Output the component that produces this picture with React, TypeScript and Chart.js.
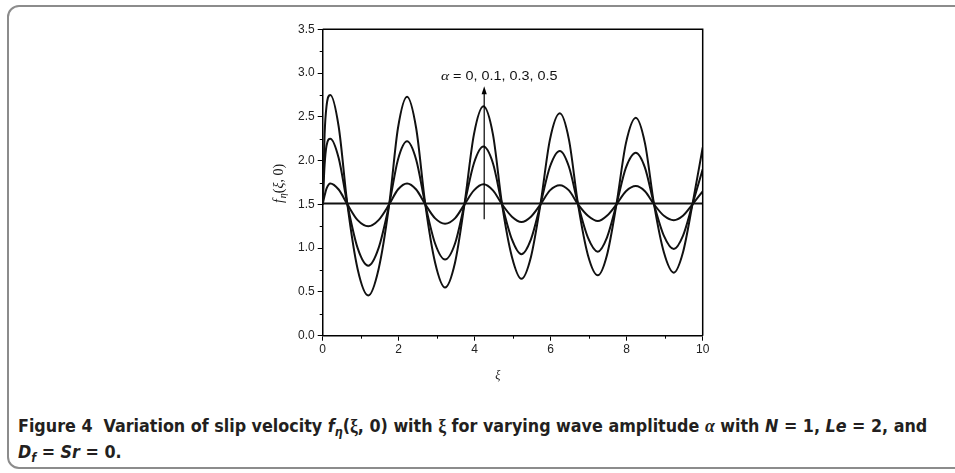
import React, { useEffect, useRef } from "react";
import { Chart, registerables } from "chart.js";
Chart.register(...registerables);

// ---- data ----
const xiSamples = [0, 0.05, 0.1, 0.2, 0.42, 0.65, 0.92, 1.2, 1.47, 1.75, 1.98, 2.22, 2.46, 2.7, 2.96, 3.22, 3.48, 3.73, 3.98, 4.23, 4.48, 4.72, 4.98, 5.23, 5.48, 5.73, 5.98, 6.24, 6.48, 6.72, 6.98, 7.24, 7.48, 7.73, 7.98, 8.24, 8.48, 8.72, 8.98, 9.24, 9.48, 9.73, 10];
const fAlpha05 = [1.5, 2.3, 2.62, 2.75, 2.39, 1.5, 0.76, 0.46, 0.76, 1.5, 2.37, 2.73, 2.37, 1.5, 0.83, 0.55, 0.83, 1.5, 2.3, 2.62, 2.3, 1.5, 0.9, 0.65, 0.9, 1.5, 2.24, 2.54, 2.24, 1.5, 0.92, 0.69, 0.92, 1.5, 2.2, 2.49, 2.2, 1.5, 0.95, 0.72, 0.95, 1.5, 2.15];
const fAlpha03 = [1.5, 1.95, 2.17, 2.25, 2.03, 1.5, 1.0, 0.8, 1.0, 1.5, 2.01, 2.22, 2.01, 1.5, 1.05, 0.87, 1.05, 1.5, 1.97, 2.16, 1.97, 1.5, 1.1, 0.93, 1.1, 1.5, 1.93, 2.11, 1.93, 1.5, 1.12, 0.96, 1.12, 1.5, 1.92, 2.09, 1.92, 1.5, 1.14, 0.99, 1.14, 1.5, 1.9];
const fAlpha01 = [1.5, 1.6, 1.68, 1.74, 1.67, 1.5, 1.32, 1.25, 1.32, 1.5, 1.67, 1.74, 1.67, 1.5, 1.34, 1.28, 1.34, 1.5, 1.66, 1.73, 1.66, 1.5, 1.36, 1.3, 1.36, 1.5, 1.66, 1.72, 1.66, 1.5, 1.37, 1.31, 1.37, 1.5, 1.65, 1.71, 1.65, 1.5, 1.37, 1.32, 1.37, 1.5, 1.65];
const xiAlpha0 = [0, 10];
const fAlpha0 = [1.51, 1.51];

const yMinorTicks = [0.25, 0.75, 1.25, 1.75, 2.25, 2.75, 3.25];
const xMinorTicks = [1, 3, 5, 7, 9];

const arrowXi = 4.25;
const arrowFrom = 1.33;
const arrowTo = 2.85;
const annotationAlpha = "α";
const annotationValues = " = 0, 0.1, 0.3, 0.5";

const toPoints = (xs: number[], ys: number[]) => xs.map((x, i) => ({ x, y: ys[i] }));

const decorPlugin = {
  id: "decor",
  afterDraw(chart: any) {
    const { ctx, chartArea: a, scales } = chart;
    const x = scales.x;
    const y = scales.y;
    ctx.save();
    ctx.strokeStyle = "#000";
    // frame top & right
    ctx.lineWidth = 1.5;
    ctx.beginPath();
    ctx.moveTo(a.left, a.top);
    ctx.lineTo(a.right, a.top);
    ctx.lineTo(a.right, a.bottom);
    ctx.stroke();
    // minor ticks
    ctx.lineWidth = 1;
    ctx.beginPath();
    for (const v of yMinorTicks) {
      const py = Math.round(y.getPixelForValue(v)) + 0.5;
      ctx.moveTo(a.left - 3, py);
      ctx.lineTo(a.left, py);
    }
    for (const v of xMinorTicks) {
      const px = Math.round(x.getPixelForValue(v)) + 0.5;
      ctx.moveTo(px, a.bottom);
      ctx.lineTo(px, a.bottom + 3);
    }
    ctx.stroke();

    // arrow
    const ax = x.getPixelForValue(arrowXi);
    const ay0 = y.getPixelForValue(arrowFrom);
    const ay1 = y.getPixelForValue(arrowTo);
    ctx.lineWidth = 1.2;
    ctx.beginPath();
    ctx.moveTo(ax, ay0);
    ctx.lineTo(ax, ay1 + 5);
    ctx.stroke();
    ctx.fillStyle = "#000";
    ctx.beginPath();
    ctx.moveTo(ax, ay1);
    ctx.lineTo(ax - 2.6, ay1 + 8);
    ctx.lineTo(ax + 2.6, ay1 + 8);
    ctx.closePath();
    ctx.fill();

    // annotation label
    const lx = x.getPixelForValue(3.11);
    const ly = y.getPixelForValue(2.96);
    ctx.save();
    ctx.translate(lx, ly);
    ctx.scale(1.2, 1);
    ctx.textBaseline = "middle";
    ctx.fillStyle = "#111";
    ctx.font = 'italic 13px "Liberation Serif"';
    ctx.fillText(annotationAlpha, 0, 0);
    const wA = ctx.measureText(annotationAlpha).width;
    ctx.font = '12px "Liberation Sans"';
    ctx.fillText(annotationValues, wA, 0);
    ctx.restore();

    // y title  f_eta(xi, 0)
    ctx.save();
    ctx.translate(a.left - 43, (a.top + a.bottom) / 2 + 1);
    ctx.rotate(-Math.PI / 2);
    ctx.textBaseline = "middle";
    ctx.fillStyle = "#111";
    const parts: [string, string, number][] = [
      ["f", 'italic 14px "Liberation Serif"', 0],
      ["η", 'italic 10px "Liberation Serif"', 4],
      ["(", '14px "Liberation Serif"', 0],
      ["ξ", 'italic 14px "Liberation Serif"', 0],
      [", 0)", '14px "Liberation Serif"', 0],
    ];
    let total = 0;
    for (const [t, f] of parts) {
      ctx.font = f;
      total += ctx.measureText(t).width + (t === "f" ? 1 : 0);
    }
    let cx = -total / 2;
    for (const [t, f, dy] of parts) {
      ctx.font = f;
      ctx.fillText(t, cx, dy);
      cx += ctx.measureText(t).width + (t === "f" ? 1 : 0);
    }
    ctx.restore();

    // x title
    ctx.save();
    ctx.fillStyle = "#111";
    ctx.font = 'italic 12px "Liberation Serif"';
    ctx.textAlign = "center";
    ctx.textBaseline = "middle";
    ctx.fillText("ξ", (a.left + a.right) / 2 - 15, a.bottom + 40);
    ctx.restore();

    ctx.restore();
  },
};

const lineStyle = {
  borderColor: "#111",
  borderWidth: 2,
  pointRadius: 0,
  fill: false,
  cubicInterpolationMode: "monotone" as const,
};

export default function App() {
  const ref = useRef<HTMLCanvasElement>(null);
  useEffect(() => {
    const chart = new Chart(ref.current!, {
      type: "line",
      data: {
        datasets: [
          { label: "α = 0", data: toPoints(xiAlpha0, fAlpha0), ...lineStyle },
          { label: "α = 0.1", data: toPoints(xiSamples, fAlpha01), ...lineStyle },
          { label: "α = 0.3", data: toPoints(xiSamples, fAlpha03), ...lineStyle },
          { label: "α = 0.5", data: toPoints(xiSamples, fAlpha05), ...lineStyle },
        ],
      },
      options: {
        animation: false,
        responsive: false,
        events: [],
        layout: { padding: { left: 282.7, right: 252.3, top: 29.3, bottom: 34.3 } },
        plugins: { legend: { display: false }, tooltip: { enabled: false } },
        scales: {
          x: {
            type: "linear",
            min: 0,
            max: 10,
            afterFit: (s: any) => { s.height = 30; },
            ticks: { stepSize: 2, color: "#222", padding: 2, maxRotation: 0, font: { family: "Liberation Sans", size: 12 } },
            grid: { drawOnChartArea: false, drawTicks: true, tickLength: 5, tickColor: "#000", tickWidth: 1 },
            border: { display: true, color: "#000", width: 1.5 },
          },
          y: {
            type: "linear",
            min: 0,
            max: 3.5,
            afterFit: (s: any) => { s.width = 40; },
            ticks: { stepSize: 0.5, color: "#222", padding: 3, callback: (v: any) => Number(v).toFixed(1), font: { family: "Liberation Sans", size: 12 } },
            grid: { drawOnChartArea: false, drawTicks: true, tickLength: 5, tickColor: "#000", tickWidth: 1 },
            border: { display: true, color: "#000", width: 1.5 },
          },
        },
      },
      plugins: [decorPlugin],
    });
    return () => chart.destroy();
  }, []);

  const subStyle: React.CSSProperties = { fontSize: "0.7em", verticalAlign: "-0.3em", lineHeight: 0 };
  const mathSerif: React.CSSProperties = { fontFamily: '"Liberation Serif", serif' };

  return (
    <div style={{ position: "absolute", left: 0, top: 0, width: 955, height: 473, overflow: "hidden", background: "#fff" }}>
      <div style={{ position: "absolute", left: 7, top: 5, width: 990, height: 464, border: "2px solid #8c8c8c", borderRadius: 12, boxSizing: "border-box" }} />
      <canvas ref={ref} width={955} height={400} style={{ position: "absolute", left: 0, top: 0, width: 955, height: 400 }} />
      <div style={{ position: "absolute", left: 18, top: 413, transform: "scaleX(0.985)", transformOrigin: "0 0", fontFamily: '"Liberation Sans Narrow", "DejaVu Sans Condensed", sans-serif', fontWeight: 700, fontSize: 18, lineHeight: "26px", color: "#231f20", whiteSpace: "nowrap" }}>
        <div>
          Figure 4&nbsp; Variation of slip velocity <i>f</i><sub style={subStyle}><i>η</i></sub>(<span style={mathSerif}>ξ</span>, 0) with <span style={mathSerif}>ξ</span> for varying wave amplitude <i style={mathSerif}>α</i> with <i>N</i> = 1, <i>Le</i> = 2, and
        </div>
        <div>
          <i>D</i><sub style={subStyle}><i>f</i></sub> = <i>Sr</i> = 0.
        </div>
      </div>
    </div>
  );
}
